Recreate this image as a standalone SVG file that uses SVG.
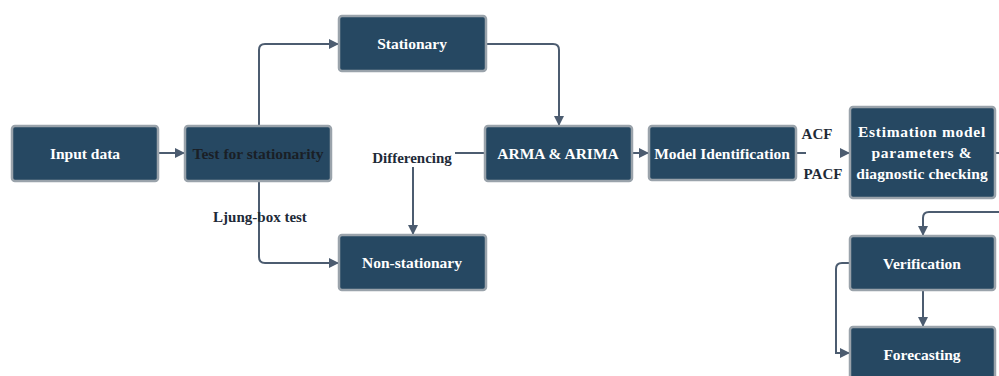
<svg xmlns="http://www.w3.org/2000/svg" width="999" height="376" viewBox="0 0 999 376">
<style>
.box{fill:#264862;stroke:#9aa3ab;stroke-width:2.5}
.t{font-family:"Liberation Serif","Times New Roman",serif;font-weight:bold;font-size:15.5px;fill:#ffffff;text-anchor:middle}
.dark{fill:#1a1f26}
.sp{letter-spacing:0.7px}
.sp2{letter-spacing:0.1px}
.lbl{font-family:"Liberation Serif","Times New Roman",serif;font-weight:bold;font-size:15px;fill:#1e2a38;text-anchor:middle}
.c{fill:none;stroke:#4c5c70;stroke-width:2}
</style>
<defs>
<marker id="ah" markerWidth="10" markerHeight="10" refX="9" refY="5" orient="auto" markerUnits="userSpaceOnUse">
<path d="M0,0 L10,5 L0,10 Z" fill="#4c5c70"/>
</marker>
</defs>
<rect width="999" height="376" fill="#ffffff"/>
<g id="connectors">
<path class="c" d="M158,153 H184" marker-end="url(#ah)"/>
<path class="c" d="M259,126 V50 Q259,44 265,44 H338" marker-end="url(#ah)"/>
<path class="c" d="M259,181 V257 Q259,263 265,263 H338" marker-end="url(#ah)"/>
<path class="c" d="M486,44 H553 Q559,44 559,50 V125" marker-end="url(#ah)"/>
<path class="c" d="M485,153 H455"/>
<path class="c" d="M413,167 V234" marker-end="url(#ah)"/>
<path class="c" d="M632,153 H648" marker-end="url(#ah)"/>
<path class="c" d="M796,153 H806"/>
<path class="c" d="M842,153 H849" marker-end="url(#ah)"/>
<path class="c" d="M995,153 H999"/>
<path class="c" d="M999,212 H929 Q923,212 923,218 V235" marker-end="url(#ah)"/>
<path class="c" d="M923,290 V326" marker-end="url(#ah)"/>
<path class="c" d="M850,263 H842 Q836,263 836,269 V353 H849" marker-end="url(#ah)"/>
</g>
<g id="input"><rect class="box" x="12" y="126" width="146" height="55" rx="3"/><text class="t" x="85" y="159">Input data</text></g>
<g id="test"><rect class="box" x="185" y="126" width="146" height="55" rx="3"/><text class="t dark" x="258" y="159">Test for stationarity</text></g>
<g id="stationary"><rect class="box" x="339" y="16" width="147" height="55" rx="3"/><text class="t" x="412" y="49">Stationary</text></g>
<g id="nonstationary"><rect class="box" x="339" y="235" width="147" height="55" rx="3"/><text class="t" x="412" y="268">Non-stationary</text></g>
<g id="arma"><rect class="box" x="485" y="126" width="147" height="55" rx="3"/><text class="t" x="558" y="159">ARMA &amp; ARIMA</text></g>
<g id="modelid"><rect class="box" x="649" y="126" width="147" height="54" rx="3"/><text class="t" x="722" y="159">Model Identification</text></g>
<g id="estimation"><rect class="box" x="850" y="107" width="145" height="91" rx="3"/><text class="t sp" x="922" y="137">Estimation model</text><text class="t sp" x="922" y="158">parameters &amp;</text><text class="t sp2" x="922" y="179">diagnostic checking</text></g>
<g id="verification"><rect class="box" x="850" y="236" width="145" height="54" rx="3"/><text class="t" x="922" y="269">Verification</text></g>
<g id="forecasting"><rect class="box" x="850" y="327" width="145" height="56" rx="3"/><text class="t" x="922" y="360">Forecasting</text></g>
<g id="labels">
<text class="lbl" x="260" y="222">Ljung-box test</text>
<text class="lbl" x="412" y="163">Differencing</text>
<text class="lbl" x="817" y="139">ACF</text>
<text class="lbl" x="823" y="179">PACF</text>
</g>
</svg>
